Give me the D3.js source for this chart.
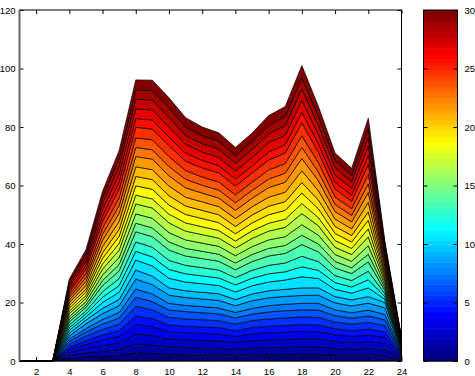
<!DOCTYPE html>
<html>
<head>
<meta charset="utf-8">
<script src="https://cdn.jsdelivr.net/npm/d3@7"></script>
<style>
  body{margin:0;background:#fff}
  svg{display:block}
  text{font-family:"Liberation Sans",Arial,Helvetica,sans-serif;font-size:9.5px;fill:#000}
</style>
</head>
<body>
<svg id="chart" width="475" height="376"></svg>
<script>
/* ---------- DATA ---------- */
const hours = [1,2,3,4,5,6,7,8,9,10,11,12,13,14,15,16,17,18,19,20,21,22,23,24];

// one row per stacked layer (bottom -> top), one value per hour
const layerValues = [
  [0,0,0,0.9,1.3,1.6,1.9,2.8,2.6,2.2,2.2,2.1,2.1,1.9,2.1,2.2,2.2,2.3,2.2,2.0,1.9,2.0,1.8,0.4],
  [0,0,0,1.0,1.4,1.7,2.0,3.0,2.9,2.6,2.4,2.3,2.3,2.2,2.3,2.4,2.4,2.5,2.6,2.3,2.1,2.2,2.0,0.4],
  [0,0,0,1.0,1.5,2.0,2.3,3.4,3.2,2.7,2.6,2.6,2.5,2.3,2.5,2.6,2.7,2.8,2.7,2.4,2.3,2.4,2.2,0.4],
  [0,0,0,0.9,1.5,1.9,2.2,3.2,3.0,2.4,2.4,2.4,2.3,2.0,2.3,2.4,2.5,2.5,2.4,2.2,2.1,2.2,2.1,0.4],
  [0,0,0,0.9,1.3,1.7,2.0,3.0,2.8,2.4,2.3,2.2,2.2,2.0,2.2,2.3,2.3,2.4,2.4,2.1,2.0,2.1,1.9,0.4],
  [0,0,0,1.0,1.5,1.9,2.2,3.3,3.0,2.6,2.5,2.5,2.4,2.2,2.4,2.5,2.6,2.6,2.6,2.3,2.2,2.3,2.1,0.4],
  [0,0,0,1.0,1.4,1.8,2.1,3.1,2.8,2.5,2.5,2.4,2.3,2.1,2.2,2.4,2.5,2.4,2.5,2.2,2.0,2.2,2.0,0.4],
  [0,0,0,0.8,1.2,1.6,1.9,2.8,2.6,2.3,2.1,2.1,2.0,1.9,2.0,2.1,2.2,2.2,2.3,2.0,1.9,2.0,1.8,0.3],
  [0,0,0,1.1,1.6,2.0,2.3,3.4,3.2,2.8,2.7,2.6,2.6,2.3,2.6,2.7,2.7,2.7,2.8,2.4,2.3,2.4,2.2,0.5],
  [0,0,0,0.9,1.3,1.8,2.1,3.1,2.9,2.5,2.3,2.3,2.3,2.1,2.3,2.4,2.4,2.6,2.5,2.1,2.1,2.2,1.9,0.4],
  [0,0,0,1.0,1.1,2.0,2.5,3.4,3.5,3.3,3.0,2.9,2.8,2.6,2.8,3.0,3.2,3.8,3.2,2.5,2.3,3.0,1.1,0.2],
  [0,0,0,0.9,1.0,1.8,2.3,3.0,3.1,3.0,2.8,2.7,2.6,2.4,2.6,2.8,2.8,3.4,2.8,2.3,2.1,2.8,0.9,0.2],
  [0,0,0,1.0,1.0,1.9,2.4,3.2,3.3,3.1,2.9,2.8,2.7,2.5,2.7,2.9,3.0,3.6,3.0,2.4,2.2,2.9,1.0,0.2],
  [0,0,0,1.0,1.2,2.1,2.6,3.5,3.6,3.5,3.2,3.1,3.0,2.7,3.0,3.2,3.3,4.0,3.3,2.6,2.4,3.2,1.1,0.2],
  [0,0,0,0.9,0.9,1.7,2.2,2.9,3.0,2.8,2.6,2.5,2.4,2.3,2.4,2.6,2.7,3.2,2.7,2.2,2.0,2.6,0.9,0.2],
  [0,0,0,0.9,1.1,1.9,2.4,3.2,3.3,3.2,2.9,2.8,2.7,2.5,2.7,2.9,3.0,3.6,3.0,2.4,2.2,2.9,1.0,0.2],
  [0,0,0,1.0,1.1,2.0,2.5,3.4,3.5,3.3,3.0,2.9,2.8,2.6,2.8,3.0,3.2,3.8,3.2,2.5,2.3,3.0,1.1,0.2],
  [0,0,0,0.9,1.0,1.8,2.3,3.0,3.1,3.0,2.8,2.7,2.6,2.4,2.6,2.7,2.8,3.4,2.8,2.3,2.1,2.8,0.9,0.2],
  [0,0,0,1.0,1.1,1.9,2.4,3.2,3.3,3.1,2.9,2.8,2.7,2.5,2.7,2.9,3.0,3.6,3.0,2.4,2.2,2.9,1.0,0.2],
  [0,0,0,0.9,1.0,1.9,2.4,3.2,3.3,3.2,2.9,2.8,2.7,2.5,2.7,2.9,3.0,3.6,3.0,2.4,2.2,2.9,1.0,0.2],
  [0,0,0,0.9,1.3,2.1,2.7,3.3,3.4,3.3,3.0,2.9,2.8,2.7,2.8,3.1,3.2,4.0,3.2,2.5,2.3,3.2,1.1,0.2],
  [0,0,0,0.9,1.4,2.2,2.8,3.5,3.6,3.5,3.2,3.0,2.9,2.8,2.9,3.3,3.4,4.2,3.4,2.6,2.4,3.4,1.2,0.2],
  [0,0,0,0.9,1.3,2.0,2.6,3.1,3.2,3.2,2.9,2.7,2.7,2.6,2.7,2.9,3.1,3.8,3.0,2.4,2.2,3.0,1.0,0.2],
  [0,0,0,0.9,1.4,2.1,2.7,3.3,3.4,3.4,3.0,2.8,2.8,2.7,2.8,3.1,3.3,4.0,3.2,2.5,2.3,3.2,1.1,0.2],
  [0,0,0,1.0,1.5,2.3,3.0,3.6,3.7,3.7,3.3,3.1,3.1,3.0,3.1,3.4,3.6,4.4,3.5,2.8,2.5,3.5,1.2,0.2],
  [0,0,0,0.8,1.2,1.9,2.4,3.0,3.1,3.0,2.7,2.6,2.5,2.4,2.5,2.8,2.9,3.6,2.9,2.3,2.1,2.9,1.0,0.2],
  [0,0,0,0.9,1.4,2.1,2.7,3.3,3.4,3.3,3.0,2.8,2.8,2.7,2.8,3.1,3.2,4.0,3.2,2.5,2.3,3.2,1.1,0.2],
  [0,0,0,0.9,1.3,2.1,2.7,3.3,3.4,3.4,3.0,2.9,2.8,2.7,2.8,3.1,3.3,4.0,3.2,2.5,2.3,3.2,1.1,0.2],
  [0,0,0,0.9,1.3,2.0,2.6,3.1,3.2,3.2,2.9,2.7,2.7,2.6,2.7,2.9,3.1,3.8,3.0,2.4,2.2,3.0,1.0,0.2],
  [0,0,0,0.9,1.4,2.2,2.8,3.5,3.6,3.5,3.2,3.0,2.9,2.8,2.9,3.3,3.4,4.2,3.4,2.6,2.4,3.4,1.2,0.2]
];

const xTicks  = [2,4,6,8,10,12,14,16,18,20,22,24];
const yTicks  = [0,20,40,60,80,100,120];
const cbTicks = [0,5,10,15,20,25,30];
const cbLevels = 64;          // MATLAB default jet(64)

/* ---------- LAYOUT ---------- */
const AX = {left:19.5, right:401.5, top:10, bottom:361};
const CB = {left:423.5, right:457.5, top:10, bottom:361};
const TICK = 4;

// MATLAB style jet colormap
function jet(t){
  const c = v => Math.round(255*Math.max(0,Math.min(1,v)));
  return `rgb(${c(1.5-Math.abs(4*t-3))},${c(1.5-Math.abs(4*t-2))},${c(1.5-Math.abs(4*t-1))})`;
}

const svg = d3.select("#chart");
svg.append("rect").attr("width",475).attr("height",376).attr("fill","#fff");

const x = d3.scaleLinear().domain([1,24]).range([AX.left,AX.right]);
const y = d3.scaleLinear().domain([0,120]).range([AX.bottom,AX.top]);

/* ---------- STACKED AREAS ---------- */
const rows = hours.map((h,j) => {
  const r = {hour:h};
  layerValues.forEach((lay,i) => r[i] = lay[j]);
  return r;
});
const keys = d3.range(layerValues.length);
const stacked = d3.stack().keys(keys)(rows);

const area = d3.area()
  .x(d => x(d.data.hour))
  .y0(d => y(d[0]))
  .y1(d => y(d[1]));

svg.append("g").selectAll("path").data(stacked).join("path")
  .attr("d", area)
  .attr("fill", (d,i) => jet(i/(keys.length-1)))
  .attr("stroke", "#000")
  .attr("stroke-width", 0.7)
  .attr("stroke-linejoin", "miter");

/* ---------- AXES ---------- */
const gx = svg.append("g").attr("transform",`translate(0,${AX.bottom})`)
  .call(d3.axisBottom(x).tickValues(xTicks).tickSizeInner(-TICK).tickSizeOuter(0).tickPadding(7));
const gy = svg.append("g").attr("transform",`translate(${AX.left},0)`)
  .call(d3.axisLeft(y).tickValues(yTicks).tickSizeInner(-TICK).tickSizeOuter(0).tickPadding(4));
const gt = svg.append("g").attr("transform",`translate(0,${AX.top})`)
  .call(d3.axisTop(x).tickValues(xTicks).tickSizeInner(-TICK).tickSizeOuter(0).tickFormat(""));
const gr = svg.append("g").attr("transform",`translate(${AX.right},0)`)
  .call(d3.axisRight(y).tickValues(yTicks).tickSizeInner(-TICK).tickSizeOuter(0).tickFormat(""));

[gx,gy,gt,gr].forEach(g => {
  g.select(".domain").remove();
  g.selectAll(".tick line").attr("stroke","#000").attr("stroke-width",1);
  g.selectAll("text").attr("font-family",null).attr("font-size",null);
});

svg.append("rect")
  .attr("x",AX.left).attr("y",AX.top)
  .attr("width",AX.right-AX.left).attr("height",AX.bottom-AX.top)
  .attr("fill","none").attr("stroke","#000").attr("stroke-width",1);
svg.append("line")
  .attr("x1",AX.left).attr("x2",AX.left).attr("y1",AX.top).attr("y2",AX.bottom)
  .attr("stroke","#666").attr("stroke-width",2);

/* ---------- COLORBAR ---------- */
const cb = d3.scaleLinear().domain([0,30]).range([CB.bottom,CB.top]);
const bandH = (CB.bottom-CB.top)/cbLevels;
svg.append("g").selectAll("rect").data(d3.range(cbLevels)).join("rect")
  .attr("x",CB.left).attr("width",CB.right-CB.left)
  .attr("y",k => CB.bottom-(k+1)*bandH).attr("height",bandH+0.5)
  .attr("fill",k => jet(k/(cbLevels-1)));

const gcb = svg.append("g").attr("transform",`translate(${CB.right},0)`)
  .call(d3.axisRight(cb).tickValues(cbTicks).tickSizeInner(-TICK).tickSizeOuter(0).tickPadding(7));
gcb.select(".domain").remove();
gcb.selectAll(".tick line").attr("stroke","#000");
gcb.selectAll("text").attr("font-family",null).attr("font-size",null);
const gcbl = svg.append("g").attr("transform",`translate(${CB.left},0)`)
  .call(d3.axisLeft(cb).tickValues(cbTicks).tickSizeInner(-TICK).tickSizeOuter(0).tickFormat(""));
gcbl.select(".domain").remove();
gcbl.selectAll(".tick line").attr("stroke","#000");

svg.append("rect")
  .attr("x",CB.left).attr("y",CB.top)
  .attr("width",CB.right-CB.left).attr("height",CB.bottom-CB.top)
  .attr("fill","none").attr("stroke","#000").attr("stroke-width",1);
</script>
</body>
</html>
